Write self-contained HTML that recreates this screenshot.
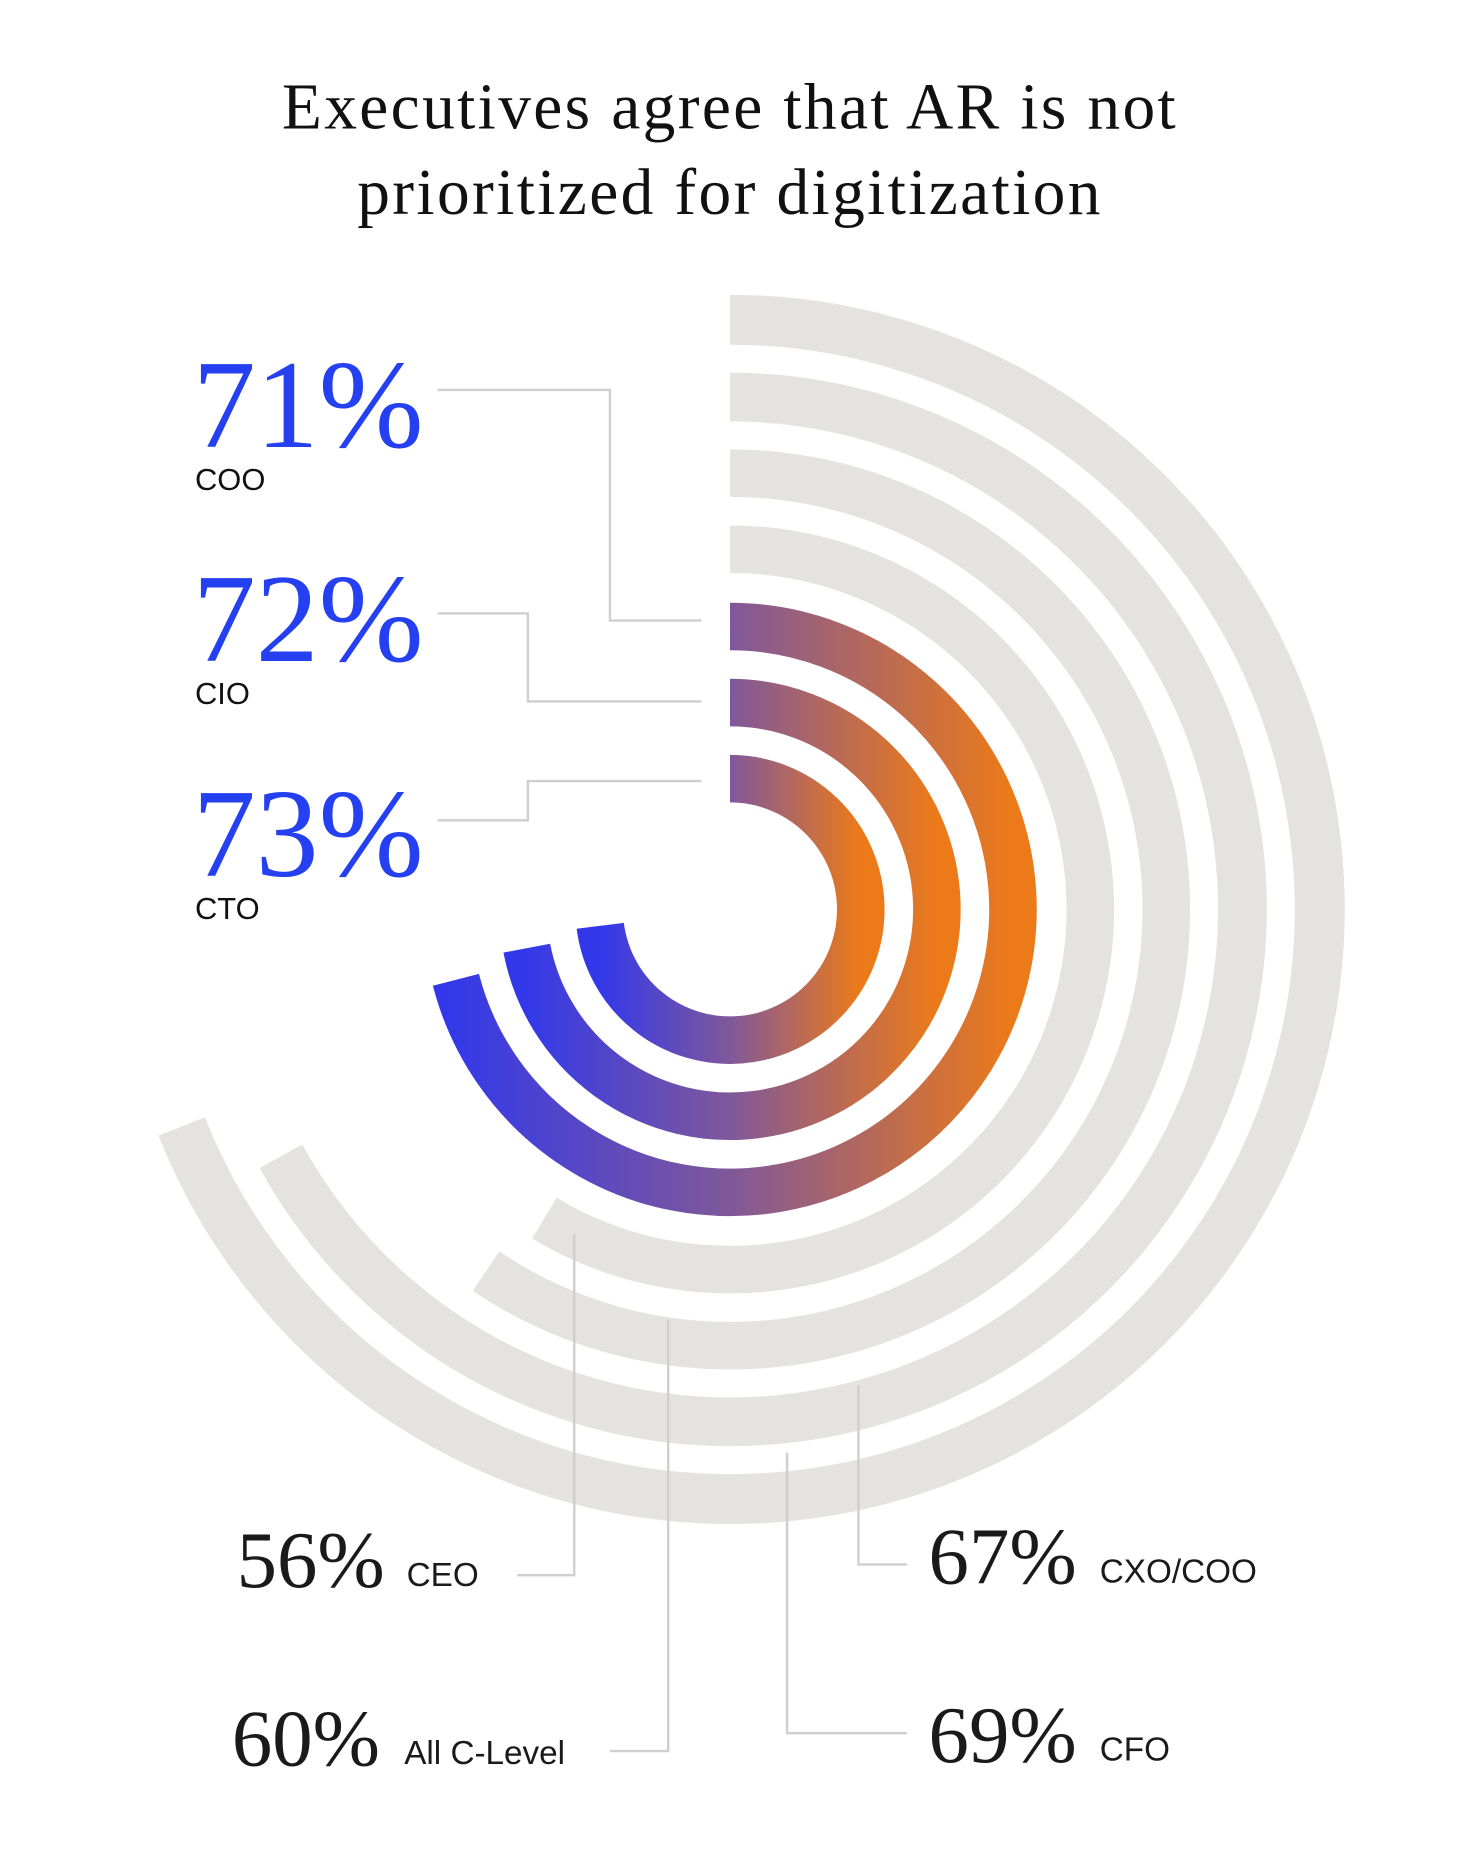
<!DOCTYPE html>
<html><head><meta charset="utf-8"><style>
html,body{margin:0;padding:0;background:#fff;}
svg{display:block}
</style></head><body>
<svg id="s" width="1460" height="1864" viewBox="0 0 1228 1568" preserveAspectRatio="none" xmlns="http://www.w3.org/2000/svg">
<defs id="d"></defs>
<g id="arcs"></g>
<g fill="none" stroke="#cfcfcf" stroke-width="2">
<polyline points="368,328 513,328 513,522 590,522"/>
<polyline points="368,516 444,516 444,590 590,590"/>
<polyline points="368,690 444,690 444,657 590,657"/>
<polyline points="483,1038 483,1325 435,1325"/>
<polyline points="562,1110 562,1473 513,1473"/>
<polyline points="722,1165 722,1316 763,1316"/>
<polyline points="662,1222 662,1458 763,1458"/>
</g>
<g font-family="Liberation Serif, serif" fill="#111" font-size="55" text-anchor="middle" letter-spacing="2">
<text x="614" y="108">Executives agree that AR is not</text>
<text x="614" y="180">prioritized for digitization</text>
</g>
<g font-family="Liberation Serif, serif" fill="#2440f0" font-size="106">
<text x="162" y="376">71%</text>
<text x="162" y="556">72%</text>
<text x="162" y="737">73%</text>
</g>
<g font-family="Liberation Sans, sans-serif" fill="#111" font-size="26">
<text x="164" y="412">COO</text>
<text x="164" y="592">CIO</text>
<text x="164" y="773">CTO</text>
</g>
<g font-family="Liberation Serif, serif" fill="#1a1a1a" font-size="68">
<text x="199" y="1335">56%</text>
<text x="195" y="1485">60%</text>
<text x="781" y="1332">67%</text>
<text x="781" y="1482">69%</text>
</g>
<g font-family="Liberation Sans, sans-serif" fill="#1a1a1a" font-size="28">
<text x="342" y="1334">CEO</text>
<text x="340" y="1484">All C-Level</text>
<text x="925" y="1331">CXO/COO</text>
<text x="925" y="1481">CFO</text>
</g>
</svg>
<script>
var cx=614,cy=765,NS="http://www.w3.org/2000/svg";
function arc(r,deg,w,stroke){
  var a=deg*Math.PI/180;
  var x2=cx+r*Math.sin(a),y2=cy-r*Math.cos(a);
  var large=deg>180?1:0;
  var p=document.createElementNS(NS,"path");
  p.setAttribute("d","M"+cx+","+(cy-r)+" A"+r+","+r+" 0 "+large+" 1 "+x2.toFixed(2)+","+y2.toFixed(2));
  p.setAttribute("fill","none");p.setAttribute("stroke",stroke);p.setAttribute("stroke-width",w);
  document.getElementById("arcs").appendChild(p);
}
var gray="#e4e3df";
arc(496,248.4,42,gray);
arc(431,241.2,41,gray);
arc(367,214,40,gray);
arc(303,211,40,gray);
var cols=[[238,255.6],[174,259.2],[110,262.8]];
var d=document.getElementById("d");
cols.forEach(function(c,i){
  var g=document.createElementNS(NS,"linearGradient");
  g.setAttribute("id","g"+i);g.setAttribute("gradientUnits","userSpaceOnUse");
  g.setAttribute("x1",cx-c[0]);g.setAttribute("x2",cx+c[0]);g.setAttribute("y1",0);g.setAttribute("y2",0);
  [["0","#3238ea"],["0.5","#80589a"],["1","#ec7a18"]].forEach(function(s){
    var st=document.createElementNS(NS,"stop");st.setAttribute("offset",s[0]);st.setAttribute("stop-color",s[1]);g.appendChild(st);
  });
  d.appendChild(g);
  arc(c[0],c[1],40,"url(#g"+i+")");
});
</script>
</body></html>
